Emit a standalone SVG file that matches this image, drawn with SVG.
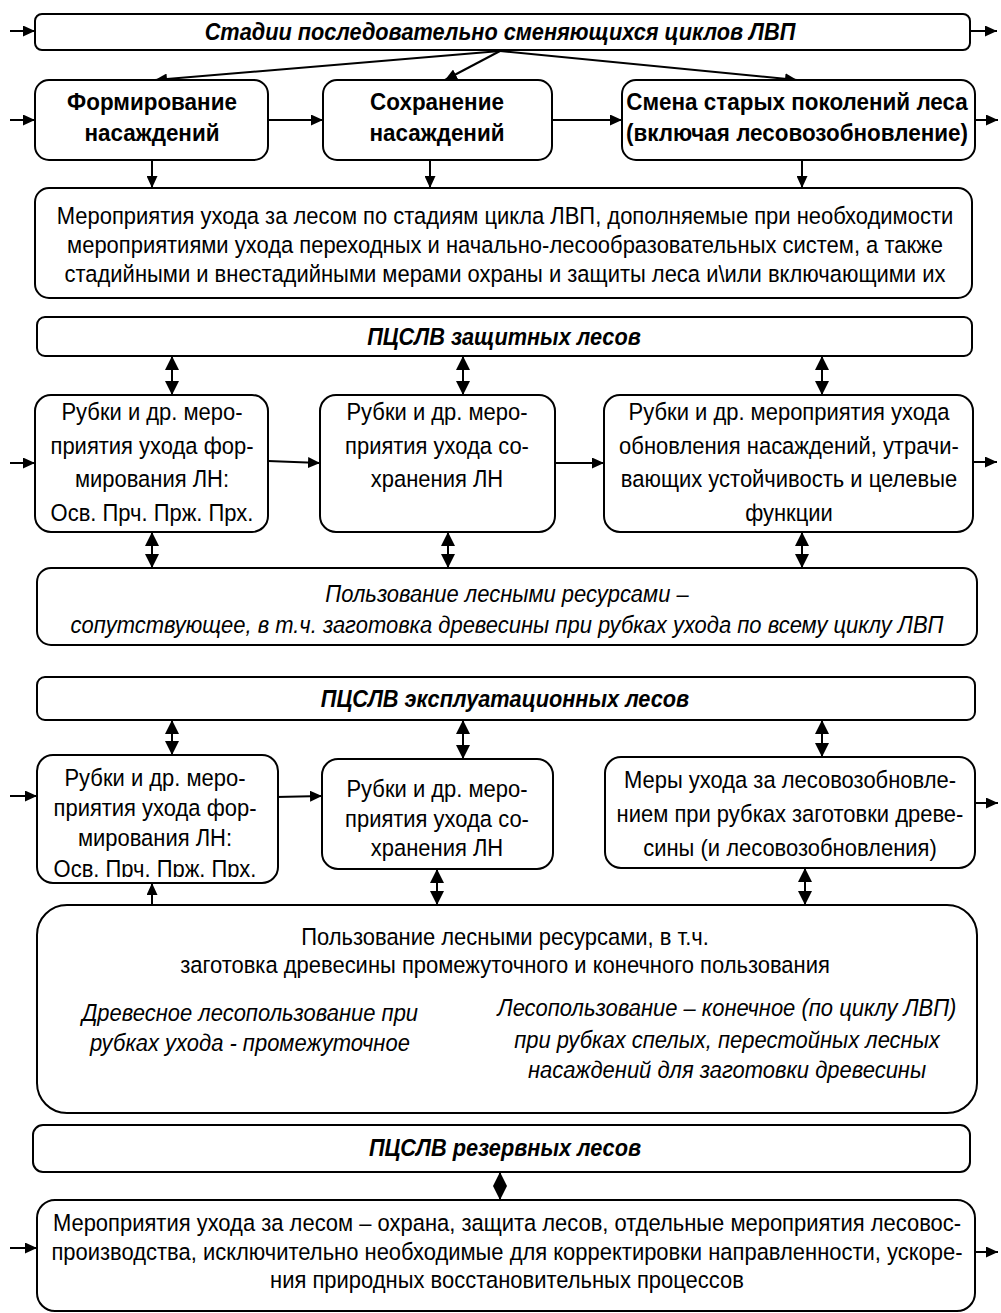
<svg xmlns="http://www.w3.org/2000/svg" width="1001" height="1313" viewBox="0 0 1001 1313">
<style>
  .box{fill:#fff;stroke:#000;stroke-width:2}
  .t{font-family:"Liberation Sans",Arial,sans-serif;font-size:23.5px;fill:#000;text-anchor:middle}
  .b{font-weight:bold}
  .h{font-size:23px}
  .i{font-style:italic}
  .c{fill:none;stroke:#000;stroke-width:2}
  .a{marker-end:url(#ah)}
  .d{marker-start:url(#dh);marker-end:url(#dh)}
</style>
<defs>
  <marker id="ah" markerUnits="userSpaceOnUse" markerWidth="13" markerHeight="11" refX="12" refY="5.5" orient="auto">
    <path d="M0,0 L12,5.5 L0,11 z" fill="#000"/>
  </marker>
  <marker id="dh" markerUnits="userSpaceOnUse" markerWidth="15" markerHeight="15" refX="14" refY="7" orient="auto-start-reverse">
    <path d="M0,0 L14,7 L0,14 z" fill="#000"/>
  </marker>
  <clipPath id="clipA"><rect x="37" y="755" width="241" height="122"/></clipPath>
</defs>

<g id="connectors">
  <line class="c a" x1="10" y1="31" x2="35" y2="31"/>
  <line class="c a" x1="970" y1="31" x2="997" y2="31"/>
  <line class="c a" x1="500" y1="51" x2="155" y2="80"/>
  <line class="c a" x1="500" y1="51" x2="445" y2="80"/>
  <line class="c a" x1="500" y1="51" x2="797" y2="80"/>
  <line class="c a" x1="10" y1="120" x2="35" y2="120"/>
  <line class="c a" x1="268" y1="120" x2="323" y2="120"/>
  <line class="c a" x1="552" y1="120" x2="622" y2="120"/>
  <line class="c a" x1="975" y1="120" x2="998" y2="120"/>
  <line class="c a" x1="152" y1="160" x2="152" y2="188"/>
  <line class="c a" x1="430" y1="160" x2="430" y2="188"/>
  <line class="c a" x1="802" y1="160" x2="802" y2="188"/>
  <line class="c d" x1="172" y1="356" x2="172" y2="395"/>
  <line class="c d" x1="463" y1="356" x2="463" y2="395"/>
  <line class="c d" x1="822" y1="356" x2="822" y2="395"/>
  <line class="c a" x1="10" y1="463" x2="35" y2="463"/>
  <line class="c a" x1="268" y1="461" x2="320" y2="463"/>
  <line class="c a" x1="555" y1="463" x2="604" y2="463"/>
  <line class="c a" x1="973" y1="462" x2="997" y2="462"/>
  <line class="c d" x1="152" y1="532" x2="152" y2="568"/>
  <line class="c d" x1="448" y1="532" x2="448" y2="568"/>
  <line class="c d" x1="802" y1="532" x2="802" y2="568"/>
  <line class="c d" x1="172" y1="720" x2="172" y2="755"/>
  <line class="c d" x1="463" y1="720" x2="463" y2="759"/>
  <line class="c d" x1="822" y1="720" x2="822" y2="757"/>
  <line class="c a" x1="10" y1="796" x2="37" y2="796"/>
  <line class="c a" x1="276" y1="797" x2="322" y2="796"/>
  <line class="c a" x1="975" y1="803" x2="998" y2="803"/>
  <line class="c a" x1="152" y1="905" x2="152" y2="883"/>
  <line class="c d" x1="437" y1="869" x2="437" y2="905"/>
  <line class="c d" x1="805" y1="868" x2="805" y2="905"/>
  <line class="c a" x1="450" y1="1043" x2="493" y2="1043"/>
  <line class="c d" x1="500" y1="1172" x2="500" y2="1200"/>
  <line class="c a" x1="10" y1="1248" x2="37" y2="1248"/>
  <line class="c a" x1="975" y1="1252" x2="998" y2="1252"/>
</g>

<g id="n-stages">
  <rect class="box" x="35" y="14" width="935" height="36" rx="7"/>
  <g transform="matrix(0.945,0,0,1,27.5,0)">
    <text class="t h b i" x="500" y="40">Стадии последовательно сменяющихся циклов ЛВП</text>
  </g>
</g>
<g id="n-form">
  <rect class="box" x="35" y="80" width="233" height="80" rx="14"/>
  <g transform="matrix(0.955,0,0,1,6.84,0)">
    <text class="t b" x="152" y="110">Формирование</text>
    <text class="t b" x="152" y="141">насаждений</text>
  </g>
</g>
<g id="n-save">
  <rect class="box" x="323" y="80" width="229" height="80" rx="14"/>
  <g transform="matrix(0.955,0,0,1,19.665,0)">
    <text class="t b" x="437" y="110">Сохранение</text>
    <text class="t b" x="437" y="141">насаждений</text>
  </g>
</g>
<g id="n-change">
  <rect class="box" x="622" y="80" width="353" height="80" rx="14"/>
  <g transform="matrix(0.955,0,0,1,35.865,0)">
    <text class="t b" x="797" y="110">Смена старых поколений леса</text>
    <text class="t b" x="797" y="141">(включая лесовозобновление)</text>
  </g>
</g>
<g id="n-care">
  <rect class="box" x="35" y="188" width="937" height="110" rx="14"/>
  <g transform="matrix(0.935,0,0,1,32.825,0)">
    <text class="t" x="505" y="224">Мероприятия ухода за лесом по стадиям цикла ЛВП, дополняемые при необходимости</text>
    <text class="t" x="505" y="253">мероприятиями ухода переходных и начально-лесообразовательных систем, а также</text>
    <text class="t" x="505" y="282">стадийными и внестадийными мерами охраны и защиты леса и\или включающими их</text>
  </g>
</g>

<g id="n-prot-head">
  <rect class="box" x="37" y="317" width="935" height="39" rx="8"/>
  <g transform="matrix(0.945,0,0,1,27.72,0)">
    <text class="t h b i" x="504" y="345">ПЦСЛВ защитных лесов</text>
  </g>
</g>
<g id="n-prot-a">
  <rect class="box" x="35" y="395" width="233" height="137" rx="16"/>
  <g transform="matrix(0.935,0,0,1,9.88,0)">
    <text class="t" x="152" y="420">Рубки и др. меро-</text>
    <text class="t" x="152" y="454">приятия ухода фор-</text>
    <text class="t" x="152" y="487">мирования ЛН:</text>
    <text class="t" x="152" y="521">Осв. Прч. Прж. Прх.</text>
  </g>
</g>
<g id="n-prot-b">
  <rect class="box" x="320" y="395" width="235" height="137" rx="16"/>
  <g transform="matrix(0.935,0,0,1,28.405,0)">
    <text class="t" x="437" y="420">Рубки и др. меро-</text>
    <text class="t" x="437" y="454">приятия ухода со-</text>
    <text class="t" x="437" y="487">хранения ЛН</text>
  </g>
</g>
<g id="n-prot-c">
  <rect class="box" x="604" y="395" width="369" height="137" rx="16"/>
  <g transform="matrix(0.935,0,0,1,51.285,0)">
    <text class="t" x="789" y="420">Рубки и др. мероприятия ухода</text>
    <text class="t" x="789" y="454">обновления насаждений, утрачи-</text>
    <text class="t" x="789" y="487">вающих устойчивость и целевые</text>
    <text class="t" x="789" y="521">функции</text>
  </g>
</g>
<g id="n-prot-use">
  <rect class="box" x="37" y="568" width="940" height="77" rx="14"/>
  <g transform="matrix(0.935,0,0,1,32.955,0)">
    <text class="t i" x="507" y="602">Пользование лесными ресурсами –</text>
    <text class="t i" x="507" y="633">сопутствующее, в т.ч. заготовка древесины при рубках ухода по всему циклу ЛВП</text>
  </g>
</g>

<g id="n-expl-head">
  <rect class="box" x="37" y="677" width="938" height="43" rx="8"/>
  <g transform="matrix(0.945,0,0,1,27.775,0)">
    <text class="t h b i" x="505" y="707">ПЦСЛВ эксплуатационных лесов</text>
  </g>
</g>
<g id="n-expl-a">
  <rect class="box" x="37" y="755" width="241" height="128" rx="16"/>
  <g clip-path="url(#clipA)">
    <g transform="matrix(0.935,0,0,1,10.075,0)">
      <text class="t" x="155" y="786">Рубки и др. меро-</text>
      <text class="t" x="155" y="816">приятия ухода фор-</text>
      <text class="t" x="155" y="846">мирования ЛН:</text>
      <text class="t" x="155" y="877">Осв. Прч. Прж. Прх.</text>
    </g>
  </g>
</g>
<g id="n-expl-b">
  <rect class="box" x="322" y="759" width="231" height="110" rx="16"/>
  <g transform="matrix(0.935,0,0,1,28.405,0)">
    <text class="t" x="437" y="797">Рубки и др. меро-</text>
    <text class="t" x="437" y="827">приятия ухода со-</text>
    <text class="t" x="437" y="856">хранения ЛН</text>
  </g>
</g>
<g id="n-expl-c">
  <rect class="box" x="605" y="757" width="370" height="111" rx="16"/>
  <g transform="matrix(0.935,0,0,1,51.35,0)">
    <text class="t" x="790" y="788">Меры ухода за лесовозобновле-</text>
    <text class="t" x="790" y="822">нием при рубках заготовки древе-</text>
    <text class="t" x="790" y="856">сины (и лесовозобновления)</text>
  </g>
</g>
<g id="n-expl-use">
  <rect class="box" x="37" y="905" width="940" height="208" rx="30"/>
  <g transform="matrix(0.935,0,0,1,32.825,0)">
    <text class="t" x="505" y="945">Пользование лесными ресурсами, в т.ч.</text>
    <text class="t" x="505" y="973">заготовка древесины промежуточного и конечного пользования</text>
  </g>
  <g transform="matrix(0.935,0,0,1,16.25,0)">
    <text class="t i" x="250" y="1021">Древесное лесопользование при</text>
    <text class="t i" x="250" y="1051">рубках ухода - промежуточное</text>
  </g>
  <g transform="matrix(0.935,0,0,1,47.255,0)">
    <text class="t i" x="727" y="1016">Лесопользование – конечное (по циклу ЛВП)</text>
    <text class="t i" x="727" y="1048">при рубках спелых, перестойных лесных</text>
    <text class="t i" x="727" y="1078">насаждений для заготовки древесины</text>
  </g>
</g>

<g id="n-res-head">
  <rect class="box" x="33" y="1125" width="937" height="47" rx="10"/>
  <g transform="matrix(0.945,0,0,1,27.775,0)">
    <text class="t h b i" x="505" y="1156">ПЦСЛВ резервных лесов</text>
  </g>
</g>
<g id="n-res-care">
  <rect class="box" x="37" y="1200" width="938" height="111" rx="18"/>
  <g transform="matrix(0.935,0,0,1,32.955,0)">
    <text class="t" x="507" y="1231">Мероприятия ухода за лесом – охрана, защита лесов, отдельные мероприятия лесовос-</text>
    <text class="t" x="507" y="1260">производства, исключительно необходимые для корректировки направленности, ускоре-</text>
    <text class="t" x="507" y="1288">ния природных восстановительных процессов</text>
  </g>
</g>
</svg>
